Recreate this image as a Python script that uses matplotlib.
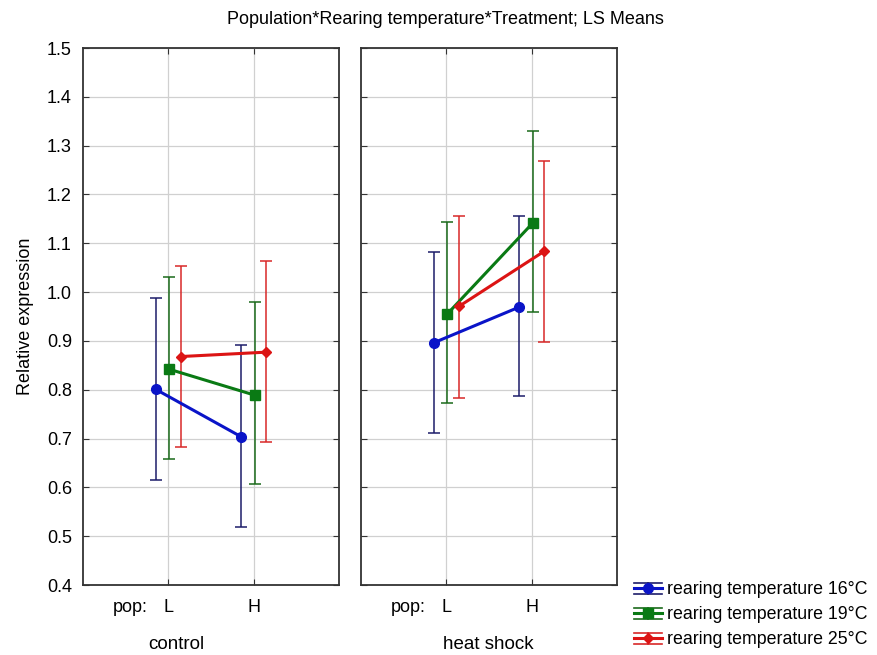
import numpy as np
import matplotlib
matplotlib.use('Agg')
import matplotlib.pyplot as plt
from matplotlib.lines import Line2D
from matplotlib.legend_handler import HandlerBase

plt.rcParams['font.family'] = ['Liberation Sans', 'DejaVu Sans']

# data
pops = ['L', 'H']
panels = ['control', 'heat shock']
series = ['rearing temperature 16°C', 'rearing temperature 19°C', 'rearing temperature 25°C']

# means [panel][pop]
mean_16 = [[0.801, 0.704], [0.896, 0.969]]
mean_19 = [[0.842, 0.789], [0.955, 1.141]]
mean_25 = [[0.868, 0.877], [0.971, 1.084]]

lo_16 = [[0.615, 0.519], [0.711, 0.787]]
hi_16 = [[0.987, 0.892], [1.083, 1.156]]
lo_19 = [[0.659, 0.606], [0.772, 0.959]]
hi_19 = [[1.031, 0.979], [1.144, 1.330]]
lo_25 = [[0.682, 0.692], [0.784, 0.898]]
hi_25 = [[1.054, 1.064], [1.156, 1.269]]

means = [mean_16, mean_19, mean_25]
los = [lo_16, lo_19, lo_25]
his = [hi_16, hi_19, hi_25]

offsets = [-0.15, 0.01, 0.15]
line_colors = ['#0a14c8', '#0a7a14', '#dc1414']
err_colors = ['#1c1c6a', '#1a6a1a', '#d82828']
markers = ['o', 's', 'D']
msizes = [7, 7, 5]


class ErrHandler(HandlerBase):
    # statistica style legend glyph: line + marker with long caps above/below
    def __init__(self, s):
        super().__init__()
        self.s = s

    def create_artists(self, legend, orig_handle, xdescent, ydescent,
                       width, height, fontsize, trans):
        s = self.s
        cy = height / 2 - ydescent
        x0, x1 = -xdescent, width - xdescent
        cx = (x0 + x1) / 2
        arts = []
        for dy, c, lw in [(4, err_colors[s], 1.2), (0, line_colors[s], 2.2),
                          (-4, err_colors[s], 1.2)]:
            arts.append(Line2D([x0, x1], [cy + dy, cy + dy], color=c, lw=lw))
        arts.append(Line2D([cx, cx], [cy - 4, cy + 4], color=err_colors[s], lw=1.2))
        arts.append(Line2D([cx], [cy], marker=markers[s], ms=msizes[s],
                           color=line_colors[s], lw=0))
        for a in arts:
            a.set_transform(trans)
        return arts


fig = plt.figure(figsize=(8.78, 6.55), dpi=100)
ax1 = fig.add_axes([83/878, 1-585/655, 256/878, 537/655])
ax2 = fig.add_axes([361/878, 1-585/655, 256/878, 537/655])
axes = [ax1, ax2]
panel_label_x = [0.09, 0.49]

x = np.arange(len(pops))
for p, ax in enumerate(axes):
    for s in range(3):
        xs = x + offsets[s]
        m = np.array(means[s][p])
        lo = m - np.array(los[s][p])
        hi = np.array(his[s][p]) - m
        ax.errorbar(xs, m, yerr=[lo, hi], fmt='none', ecolor=err_colors[s],
                    elinewidth=1.1, capsize=4, capthick=1.1, zorder=3)
        ax.plot(xs, m, color=line_colors[s], lw=2.2, marker=markers[s],
                ms=msizes[s], zorder=4)

    ax.set_xlim(-1, 2)
    ax.set_ylim(0.4, 1.5)
    ax.set_yticks(np.arange(0.4, 1.51, 0.1))
    ax.set_xticks(x)
    ax.set_xticklabels(pops)
    ax.set_xticks([-0.45], ['pop:'], minor=True)
    ax.grid(True, which='major', color='#d0d0d0', lw=0.9)
    ax.set_axisbelow(True)
    ax.tick_params(which='major', direction='in', top=True, right=True, length=4,
                   labelsize=13, color='#333333', pad=8)
    ax.tick_params(which='major', axis='x', pad=10)
    ax.tick_params(which='minor', axis='x', length=0, labelsize=13, pad=10)
    for sp in ax.spines.values():
        sp.set_color('#333333')
        sp.set_linewidth(1.3)
    ax.text(panel_label_x[p], 0.4 - 60/488.2, panels[p], transform=ax.transData,
            ha='center', va='center', fontsize=13.5)

ax2.set_yticklabels([])
ax1.set_yticklabels(['%.1f' % v for v in np.arange(0.4, 1.51, 0.1)])
ax1.set_ylabel('Relative expression', fontsize=13)
ax1.yaxis.set_label_coords(-0.19, 0.5)

fig.text(445/878, 1-19/655, 'Population*Rearing temperature*Treatment; LS Means',
         ha='center', va='center', fontsize=13)

leg_handles = [Line2D([], []) for s in range(3)]
fig.legend(leg_handles, series, loc='upper left',
           handler_map={leg_handles[s]: ErrHandler(s) for s in range(3)},
           bbox_to_anchor=(622/878, 1-569/655), frameon=False,
           fontsize=12.8, handlelength=1.55, handletextpad=0.3,
           labelspacing=0.45, borderpad=0.2)

fig.savefig('out.png', dpi=100)
